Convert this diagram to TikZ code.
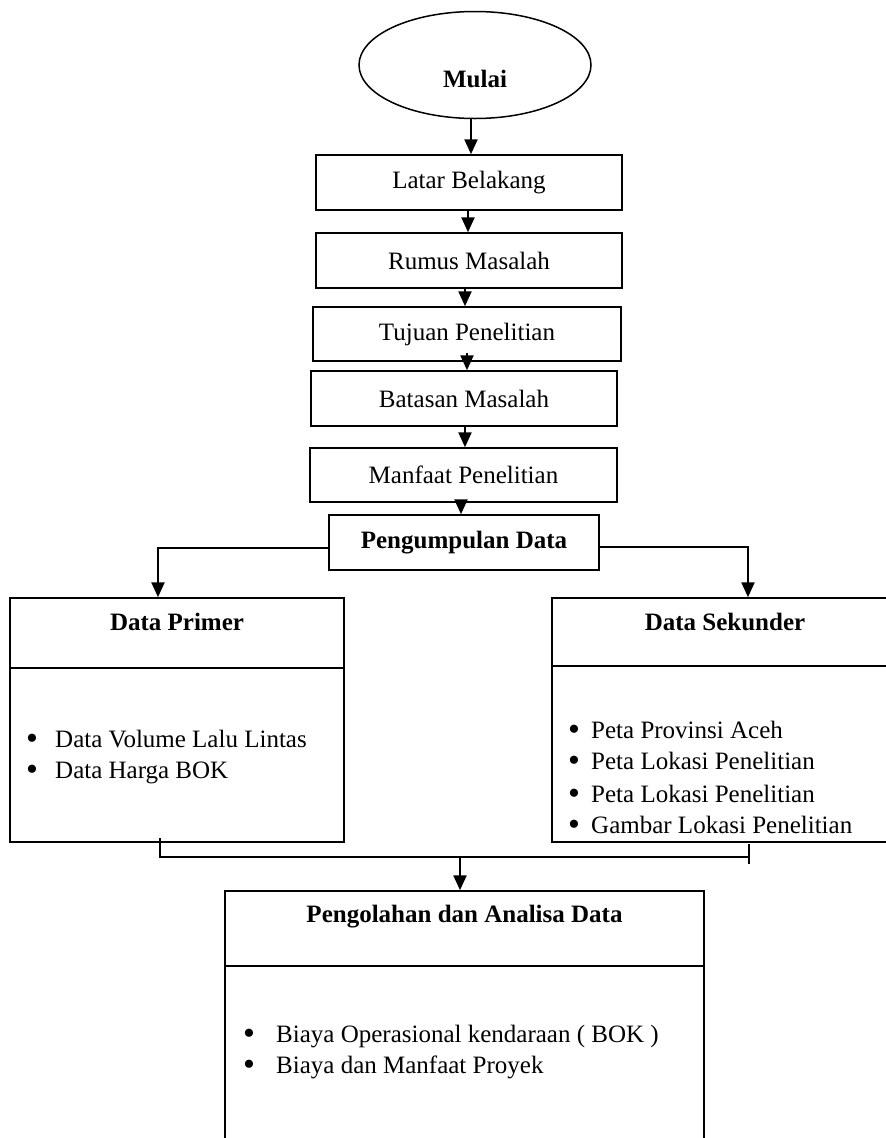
\documentclass[tikz,border=0pt]{standalone}
\usepackage{fontspec}
\setmainfont{Liberation Serif}
\usetikzlibrary{shapes.geometric,arrows.meta}
\tikzset{
  box/.style={draw, line width=1.5pt, rectangle, inner sep=0pt},
  bigbox/.style={draw, line width=1.5pt, rectangle, inner sep=0pt},
  arr/.style={line width=2.4pt, -{Triangle[length=15pt,width=13pt]}},
  conn/.style={line width=1.7pt},
  title/.style={font=\fontsize{25}{30}\selectfont\bfseries, anchor=base, inner sep=0pt},
  item/.style={anchor=base west, inner sep=0pt},
  dot/.style={anchor=base, inner sep=0pt, font=\fontsize{34}{30}\selectfont, yshift=-2.5pt}
}
\begin{document}
\begin{tikzpicture}[x=1pt,y=-1pt,font=\fontsize{25}{30}\selectfont]
\useasboundingbox (0,0) rectangle (886,1138);

% start
\node[draw, ellipse, line width=1.5pt, minimum width=232, minimum height=107, inner sep=0pt] (start) at (475,65) {};
\node[title] (startT) at (475,87) {Mulai};

% chain of boxes
\node[box, minimum width=306, minimum height=55] (latar) at (469,182.5) {Latar Belakang};
\node[box, minimum width=306, minimum height=55] (rumus) at (469,260.5) {Rumus Masalah};
\node[box, minimum width=308, minimum height=54] (tujuan) at (467,334) {Tujuan Penelitian};
\node[box, minimum width=306, minimum height=55] (batasan) at (464,398.5) {Batasan Masalah};
\node[box, minimum width=307, minimum height=54] (manfaat) at (463.5,475) {Manfaat Penelitian};
\node[box, minimum width=270, minimum height=55, font=\fontsize{25}{30}\selectfont\bfseries] (kumpul) at (464,542.5) {Pengumpulan Data};

\draw[arr] ([xshift=-4pt]start.south) -- ([xshift=-4pt]start.south |- latar.north);
\draw[arr] ([xshift=-1pt]latar.south) -- ([xshift=-1pt]latar.south |- rumus.north);
\draw[arr] ([xshift=-4pt]rumus.south) -- ([xshift=-4pt]rumus.south |- tujuan.north);
\draw[arr] ([yshift=9pt]tujuan.south) -- (tujuan.south |- batasan.north);
\draw[arr] ([xshift=1pt]batasan.south) -- ([xshift=1pt]batasan.south |- manfaat.north);
\draw[arr] ([xshift=-2.5pt]manfaat.south) -- ([xshift=-2.5pt]manfaat.south |- kumpul.north);

% Data Primer
\node[bigbox, minimum width=334, minimum height=244] (primer) at (177,720) {};
\draw[conn] (primer.west |- 0,668) -- (primer.east |- 0,668);
\node[title] (primerT) at (177,630) {Data Primer};
\node[dot] (pb1) at (32,747) {•};
\node[item] (pi1) at (55,747) {Data Volume Lalu Lintas};
\node[dot] (pb2) at (32,778) {•};
\node[item] (pi2) at (55,778) {Data Harga BOK};

% Data Sekunder
\node[bigbox, minimum width=346, minimum height=244] (sekunder) at (725,720) {};
\draw[conn] ([xshift=2pt]sekunder.west |- 0,666) -- (sekunder.east |- 0,666);
\node[title] (sekunderT) at (725,630) {Data Sekunder};
\node[dot] (sb1) at (574,738) {•};
\node[item] (si1) at (591,738) {Peta Provinsi Aceh};
\node[dot] (sb2) at (574,769) {•};
\node[item] (si2) at (591,769) {Peta Lokasi Penelitian};
\node[dot] (sb3) at (574,802) {•};
\node[item] (si3) at (591,802) {Peta Lokasi Penelitian};
\node[dot] (sb4) at (574,833) {•};
\node[item] (si4) at (591,833) {Gambar Lokasi Penelitian};

\draw[arr] ([yshift=-5.5pt]kumpul.west) -| ([xshift=-19pt]primer.north);
\draw[arr] ([yshift=-4.5pt]kumpul.east) -| ([xshift=23pt]sekunder.north);

% Pengolahan
\node[bigbox, minimum width=479, minimum height=280] (olah) at (464.5,1031) {};
\draw[conn] (olah.west |- 0,966) -- (olah.east |- 0,966);
\node[title] (olahT) at (464.5,922) {Pengolahan dan Analisa Data};
\node[dot] (ob1) at (249,1042) {•};
\node[item] (oi1) at (276,1042) {Biaya Operasional kendaraan ( BOK )};
\node[dot] (ob2) at (249,1073) {•};
\node[item] (oi2) at (276,1073) {Biaya dan Manfaat Proyek};

% merge connector
\coordinate (lt) at (160,838);
\coordinate (lb) at (160,858);
\coordinate (rt) at (749,844);
\coordinate (rb) at (749,864);
\coordinate (merge) at (460,857);
\draw[conn] (lt) -- (lb);
\draw[conn] (rt) -- (rb);
\draw[conn] (lt |- merge) -- (rt |- merge);
\draw[arr] (merge) -- (merge |- olah.north);
\end{tikzpicture}
\end{document}
